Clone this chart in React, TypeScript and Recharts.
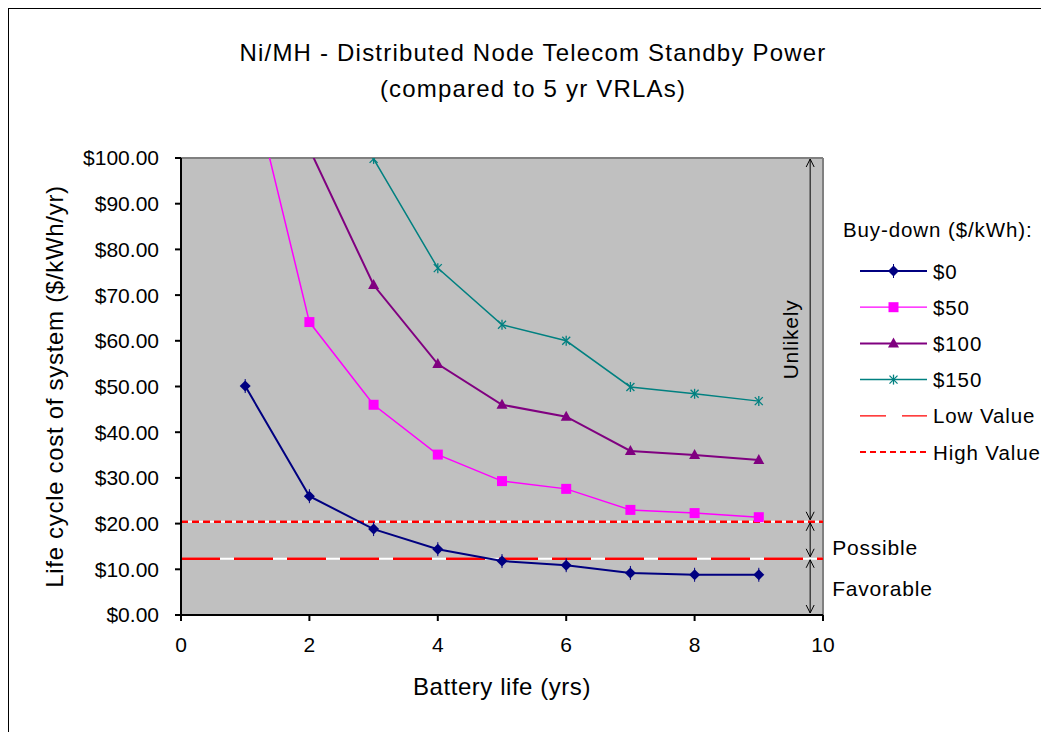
import React from 'react';
import {
  LineChart,
  Line,
  XAxis,
  YAxis,
  CartesianGrid,
  ReferenceLine,
} from 'recharts';

const years = [1, 2, 3, 4, 5, 6, 7, 8, 9];
const buyDown0 = [50.1, 26.0, 18.8, 14.4, 11.8, 10.9, 9.2, 8.8, 8.8];
const buyDown50 = [122, 64.1, 46.0, 35.1, 29.3, 27.6, 23.0, 22.3, 21.4];
const buyDown100 = [205, 102, 72.2, 54.9, 46.0, 43.4, 35.9, 35.0, 33.9];
const buyDown150 = [290, 146, 99.8, 75.9, 63.5, 60.0, 49.9, 48.4, 46.8];
const lowValue = 12.3;
const highValue = 20.4;
const xTicks = [0, 2, 4, 6, 8, 10];
const yTicks = [0, 10, 20, 30, 40, 50, 60, 70, 80, 90, 100];
const zoneX = 9.8;

const data = years.map((yr, i) => ({
  yr,
  b0: buyDown0[i],
  b50: buyDown50[i],
  b100: buyDown100[i],
  b150: buyDown150[i],
}));

const FONT = '"Liberation Sans", Arial, sans-serif';

type MarkerKind = 'diamond' | 'square' | 'triangle' | 'star';

function Marker({ kind, cx, cy, color }: { kind: MarkerKind; cx: number; cy: number; color: string }) {
  if (kind === 'diamond') {
    return (
      <g>
        <polygon points={`${cx},${cy - 5.5} ${cx + 5.5},${cy} ${cx},${cy + 5.5} ${cx - 5.5},${cy}`} fill={color} />
        <line x1={cx} y1={cy - 7} x2={cx} y2={cy + 7} stroke={color} strokeWidth={1} />
      </g>
    );
  }
  if (kind === 'square') {
    return <rect x={cx - 5} y={cy - 5} width={10} height={10} fill={color} />;
  }
  if (kind === 'triangle') {
    return <polygon points={`${cx},${cy - 6} ${cx + 5.5},${cy + 4} ${cx - 5.5},${cy + 4}`} fill={color} />;
  }
  return (
    <g stroke={color} strokeWidth={1.3}>
      <line x1={cx - 4} y1={cy - 4} x2={cx + 4} y2={cy + 4} />
      <line x1={cx - 4} y1={cy + 4} x2={cx + 4} y2={cy - 4} />
      <line x1={cx} y1={cy - 5} x2={cx} y2={cy + 5} />
    </g>
  );
}

const makeDot = (kind: MarkerKind, color: string) => (props: any) => {
  const { cx, cy, value, index } = props;
  if (cx == null || cy == null || value > 100.5) return <g key={`d-${kind}-${index}`} />;
  return (
    <g key={`d-${kind}-${index}`}>
      <Marker kind={kind} cx={cx} cy={cy} color={color} />
    </g>
  );
};

const ZoneArrow = (label: string, rotated: boolean, dy: number) => (props: any) => {
  const { x1, y1, x2, y2 } = props;
  const x = (x1 + x2) / 2;
  const top = Math.min(y1, y2) + 1;
  const bot = Math.max(y1, y2) - 2;
  const mid = (top + bot) / 2;
  return (
    <g>
      <line x1={x} y1={top} x2={x} y2={bot} stroke="#000" strokeWidth={1} />
      <polyline points={`${x - 4},${top + 8} ${x},${top} ${x + 4},${top + 8}`} fill="none" stroke="#000" strokeWidth={1} />
      <polyline points={`${x - 4},${bot - 8} ${x},${bot} ${x + 4},${bot - 8}`} fill="none" stroke="#000" strokeWidth={1} />
      {rotated ? (
        <text
          x={x - 20}
          y={mid}
          transform={`rotate(-90 ${x - 20} ${mid})`}
          textAnchor="middle"
          dominantBaseline="central"
          fontFamily={FONT}
          fontSize={21}
          letterSpacing={0.8}
          fill="#000"
        >
          {label}
        </text>
      ) : (
        <text x={x + 22} y={mid + dy} dominantBaseline="central" fontFamily={FONT} fontSize={21} letterSpacing={0.8} fill="#000">
          {label}
        </text>
      )}
    </g>
  );
};

const legendItems: { name: string; color: string; kind?: MarkerKind; dash?: string; width: number }[] = [
  { name: '$0', color: '#000080', kind: 'diamond', width: 2 },
  { name: '$50', color: '#FF00FF', kind: 'square', width: 1.3 },
  { name: '$100', color: '#800080', kind: 'triangle', width: 2 },
  { name: '$150', color: '#008080', kind: 'star', width: 1.5 },
  { name: 'Low Value', color: '#FF0000', dash: '26 16', width: 1.3 },
  { name: 'High Value', color: '#FF0000', dash: '6 4', width: 2 },
];

function LegendBox() {
  return (
    <svg width={226} height={270} style={{ display: 'block' }}>
      <text x={21} y={24} dominantBaseline="central" fontFamily={FONT} fontSize={20.5} letterSpacing={0.9} fill="#000">
        Buy-down ($/kWh):
      </text>
      {legendItems.map((it, i) => {
        const y = 66 + i * 36.2;
        return (
          <g key={it.name}>
            <line x1={38} y1={y} x2={105} y2={y} stroke={it.color} strokeWidth={it.width} strokeDasharray={it.dash} />
            {it.kind && <Marker kind={it.kind} cx={71.5} cy={y} color={it.color} />}
            <text x={111} y={y} dominantBaseline="central" fontFamily={FONT} fontSize={20.5} letterSpacing={0.9} fill="#000">
              {it.name}
            </text>
          </g>
        );
      })}
    </svg>
  );
}

export default function App() {
  return (
    <div
      style={{
        position: 'relative',
        width: 1041,
        height: 724,
        borderTop: '1px solid #000',
        borderLeft: '1px solid #000',
        boxSizing: 'border-box',
        background: '#fff',
      }}
    >
      <div
        style={{
          position: 'absolute',
          left: 0,
          top: 26,
          width: 1048,
          textAlign: 'center',
          fontFamily: FONT,
          fontSize: 24,
          letterSpacing: '1.2px',
          lineHeight: '36px',
          color: '#000',
          pointerEvents: 'none',
        }}
      >
        Ni/MH - Distributed Node Telecom Standby Power
        <br />
        (compared to 5 yr VRLAs)
      </div>
      <LineChart
        width={1040}
        height={723}
        data={data}
        margin={{ top: 149, right: 226, bottom: 57, left: 72 }}
        style={{ fontFamily: FONT }}
      >
        <CartesianGrid horizontal={false} vertical={false} fill="#C0C0C0" />
        <ReferenceLine y={100} stroke="#808080" strokeWidth={2} />
        <ReferenceLine x={10} stroke="#808080" strokeWidth={2} />
        <XAxis
          dataKey="yr"
          type="number"
          domain={[0, 10]}
          ticks={xTicks}
          height={60}
          stroke="#000"
          strokeWidth={2}
          tickSize={6}
          tickMargin={16}
          tick={{ fill: '#000', fontSize: 21 }}
          label={{
            value: 'Battery life (yrs)',
            position: 'insideBottom',
            offset: -20,
            fill: '#000',
            fontSize: 24,
            letterSpacing: 0.55,
          }}
        />
        <YAxis
          type="number"
          domain={[0, 100]}
          ticks={yTicks}
          allowDataOverflow
          width={100}
          stroke="#000"
          strokeWidth={2}
          tickSize={6}
          tickMargin={16}
          tickFormatter={(v: number) => `$${v.toFixed(2)}`}
          tick={{ fill: '#000', fontSize: 21 }}
          label={{
            value: 'Life cycle cost of system ($/kWh/yr)',
            angle: -90,
            position: 'insideLeft',
            dx: -32,
            fill: '#000',
            fontSize: 24,
            letterSpacing: 0.7,
            style: { textAnchor: 'middle' },
          }}
        />
        <ReferenceLine y={highValue} stroke="#FFFFFF" strokeWidth={2} />
        <ReferenceLine y={highValue} stroke="#FF0000" strokeWidth={2.5} strokeDasharray="7 4" />
        <ReferenceLine y={lowValue} stroke="#FFFFFF" strokeWidth={2} />
        <ReferenceLine y={lowValue} stroke="#FF0000" strokeWidth={2.5} strokeDasharray="39 14" />
        <Line
          dataKey="b0"
          stroke="#000080"
          strokeWidth={2}
          dot={makeDot('diamond', '#000080')}
          activeDot={false}
          isAnimationActive={false}
        />
        <Line
          dataKey="b50"
          stroke="#FF00FF"
          strokeWidth={1.5}
          dot={makeDot('square', '#FF00FF')}
          activeDot={false}
          isAnimationActive={false}
        />
        <Line
          dataKey="b100"
          stroke="#800080"
          strokeWidth={2}
          dot={makeDot('triangle', '#800080')}
          activeDot={false}
          isAnimationActive={false}
        />
        <Line
          dataKey="b150"
          stroke="#008080"
          strokeWidth={1.5}
          dot={makeDot('star', '#008080')}
          activeDot={false}
          isAnimationActive={false}
        />
        <ReferenceLine
          segment={[{ x: zoneX, y: 100 }, { x: zoneX, y: highValue }]}
          shape={ZoneArrow('Unlikely', true, 0)}
        />
        <ReferenceLine
          segment={[{ x: zoneX, y: highValue }, { x: zoneX, y: lowValue }]}
          shape={ZoneArrow('Possible', false, 8)}
        />
        <ReferenceLine
          segment={[{ x: zoneX, y: lowValue }, { x: zoneX, y: 0 }]}
          shape={ZoneArrow('Favorable', false, 2)}
        />
      </LineChart>
      <div style={{ position: 'absolute', left: 813, top: 196 }}>
        <LegendBox />
      </div>
    </div>
  );
}
